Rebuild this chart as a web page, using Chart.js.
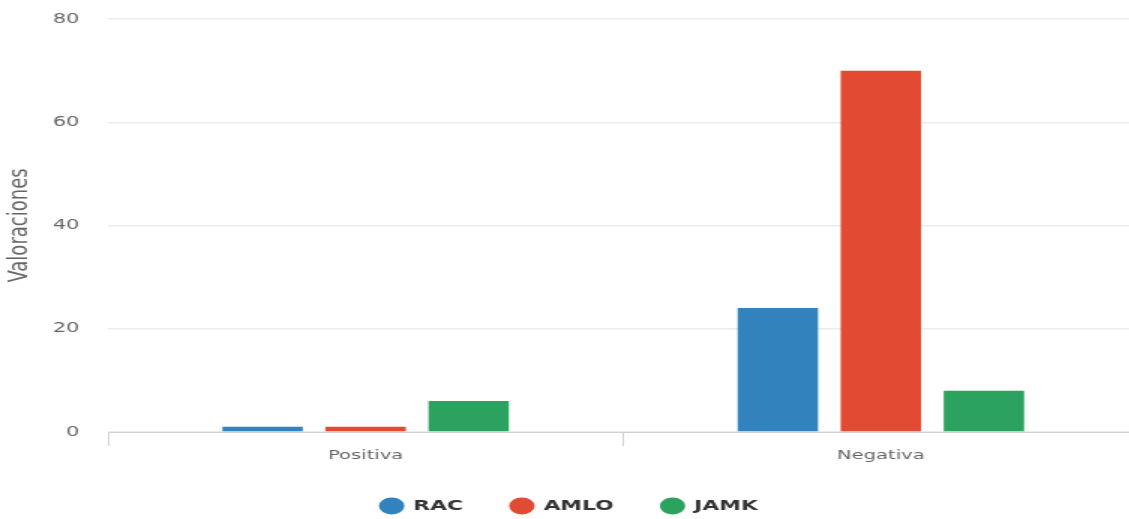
<!DOCTYPE html>
<html>
<head>
<meta charset="utf-8">
<script src="https://cdn.jsdelivr.net/npm/chart.js@4"></script>
<style>
	html, body { margin: 0; padding: 0; background: #fff; overflow: hidden; }
	/* the source picture is stretched sideways, so the chart is drawn narrow and scaled */
	#wrap { width: 759px; height: 519px; transform: scaleX(1.5); transform-origin: 0 0; }
</style>
</head>
<body>
<div id="wrap"><canvas id="valoracionesChart"></canvas></div>
<script>
'use strict';

const categories = ['Positiva', 'Negativa'];
const seriesNames = ['RAC', 'AMLO', 'JAMK'];
const racValues = [1, 24];
const amloValues = [1, 70];
const jamkValues = [6, 8];
const seriesColors = ['#3182bd', '#e34a33', '#2ca25f'];
const yMax = 80;
const yStep = 20;

const seriesValues = [racValues, amloValues, jamkValues];
let datasets = [];

for (let i = 0; i < seriesNames.length; ++i) {
	datasets.push({
		label: seriesNames[i],
		data: seriesValues[i],
		backgroundColor: seriesColors[i],
		borderWidth: 0,
		categoryPercentage: 0.6,
		barPercentage: 0.78
	});
}

const font = 'DejaVu Sans';

const chart = new Chart(document.getElementById('valoracionesChart'), {
	type: 'bar',
	data: {
		labels: categories,
		datasets: datasets
	},
	options: {
		responsive: true,
		maintainAspectRatio: false,
		animation: false,
		layout: {
			padding: { top: 19, right: 0, bottom: -4.25, left: 0 }
		},
		plugins: {
			tooltip: { enabled: false },
			legend: {
				position: 'bottom',
				labels: {
					usePointStyle: true,
					pointStyle: 'circle',
					boxHeight: 12,
					padding: 32,
					color: '#333',
					font: { family: font, size: 14.5, weight: 'bold' }
				}
			}
		},
		scales: {
			x: {
				grid: {
					offset: true,
					drawOnChartArea: false,
					drawTicks: true,
					tickLength: 14,
					color: '#d0d0d0'
				},
				border: { display: true, color: '#d0d0d0' },
				ticks: {
					color: '#666',
					padding: 2,
					font: { family: font, size: 13 }
				},
				afterFit: function (scale) { scale.height = 34.75; }
			},
			y: {
				min: 0,
				max: yMax,
				ticks: {
					stepSize: yStep,
					color: '#666',
					padding: 19,
					font: { family: font, size: 14 }
				},
				grid: { color: '#ececec', lineWidth: 1.5, drawTicks: false },
				border: { display: false },
				title: {
					display: true,
					text: 'Valoraciones',
					color: '#666',
					padding: { top: 3, bottom: 0 },
					font: { family: font, size: 18 }
				},
				afterFit: function (scale) {
					// fixed axis width; the top padding comes from the layout only
					scale.width = 72;
					scale.paddingTop = 0;
					scale.paddingBottom = 0;
				}
			}
		}
	}
});
</script>
</body>
</html>
